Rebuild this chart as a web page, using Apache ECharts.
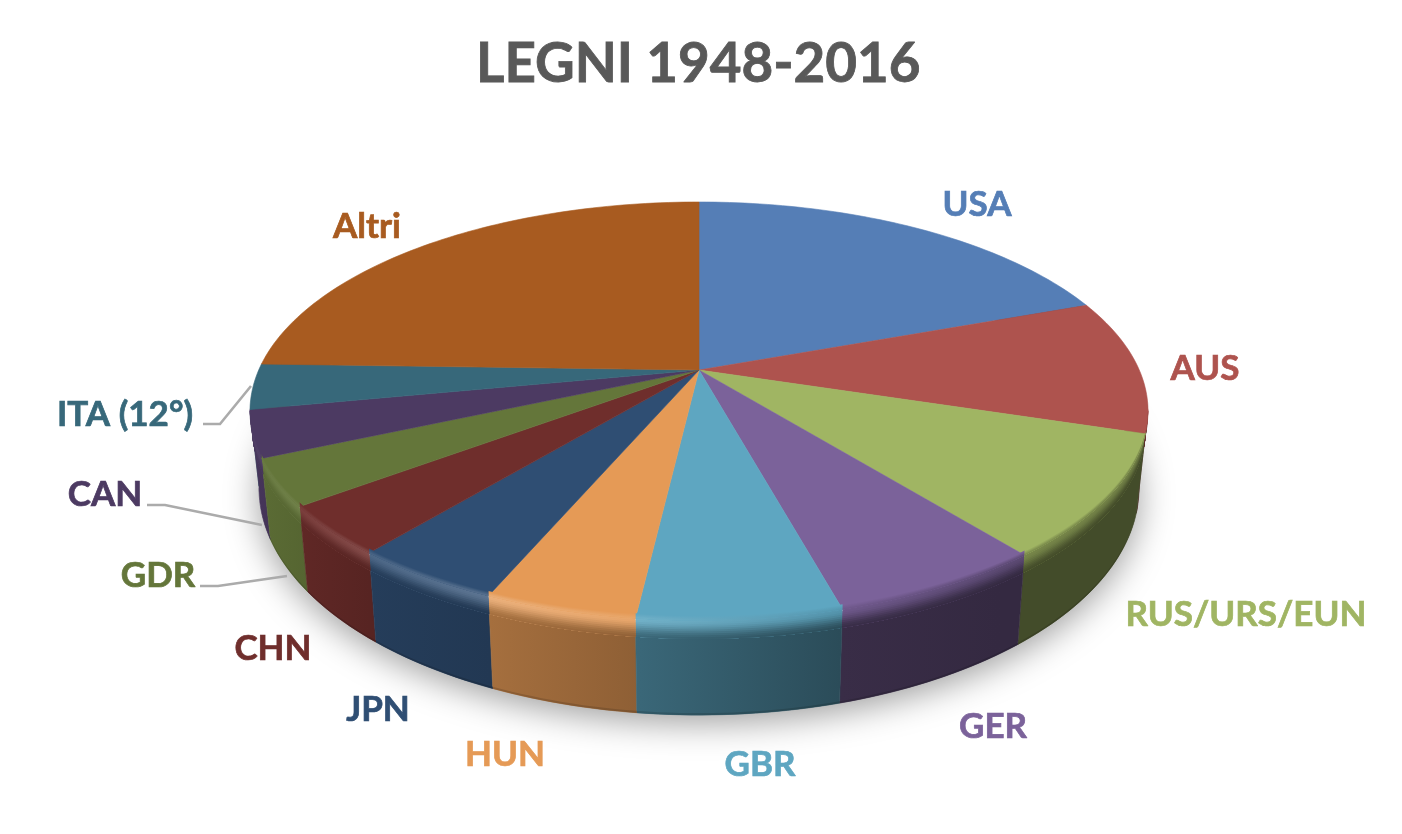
<!DOCTYPE html>
<html>
<head>
<meta charset="utf-8">
<style>html,body{margin:0;padding:0;background:#fff}#c{width:1402px;height:834px}</style>
<script src="https://cdn.jsdelivr.net/npm/echarts@6/dist/echarts.min.js"></script>
</head>
<body>
<div id="c"></div>
<script>
// ---- data ----
const categories = ['USA','AUS','RUS/URS/EUN','GER','GBR','HUN','JPN','CHN','GDR','CAN','ITA (12°)','Altri'];
const shares = [19.4,10.4,9.4,6.5,6.1,4.55,4.55,3.8,3.6,3.6,3.5,24.5];
const colors = ['#557EB6','#AE534E','#A0B563','#7B629A','#5EA6C1','#E59A56','#2F4E73','#6F2E2C','#64763A','#4C3A62','#37687A','#A85B20'];
const labelCentres = [[977,205],[1205,369],[1246,615],[993,727],[760,765],[505,755],[378,710],[273,649],[158,576],[105,495],[125,415],[367,227]];
const leaders = {10:[[203,424],[220,424],[251,386]],9:[[147,505],[165,505],[262,525]],8:[[200,586],[218,586],[287,576]]};

// ---- projection of the tilted disc ----
const CX=699, TOP_CY=411, TOP_RX=449, TOP_RY=209, DROP=77, SHRINK=9, GROW=18, B=-0.196, S=Math.sqrt(1-B*B);
function pt(deg,f){
  const a=deg*Math.PI/180, x=Math.sin(a), y=-Math.cos(a), d=1+B*y;
  const xp=S*x/d, yp=(y+B)/d;
  return [CX+(TOP_RX-f*SHRINK)*xp, TOP_CY+f*DROP+(TOP_RY+f*GROW)*yp, yp];
}
const total=shares.reduce((a,b)=>a+b,0);
let acc=0;
const spans=shares.map(v=>{const s=acc/total*360; acc+=v; return [s,acc/total*360];});
function arc(a0,a1,f){
  const n=Math.max(2,Math.ceil((a1-a0)/1.2)), out=[];
  for(let i=0;i<=n;i++){out.push(pt(a0+(a1-a0)*i/n,f).slice(0,2));}
  return out;
}
// ---- shading ----
function rgb(h){return [1,3,5].map(i=>parseInt(h.substr(i,2),16));}
function mix(a,b,t){return a.map((v,i)=>v+(b[i]-v)*t);}
function css(c){return 'rgb('+c.map(v=>Math.round(Math.max(0,Math.min(255,v)))).join(',')+')';}
const XS=[250,370,490,640,840,1000,1148];
const WALL=[.92,.78,.72,.62,.46,.42,.42];
const HL=[.03,.14,.22,.12,-.1,-.25,-.3];
function grad(fn){
  return new echarts.graphic.LinearGradient(250,0,1148,0,XS.map((x,i)=>({offset:(x-250)/898,color:css(fn(i))})),true);
}
function hi(T,i){return HL[i]>=0?mix(T,[255,255,255],HL[i]):mix(T,[0,0,0],-HL[i]);}
const FADE=.2;
function bandColor(T,f,i){
  const W=T.map(v=>v*WALL[i]), H=hi(T,i);
  if(f<=0) return mix(T,H,(f+.05)/.05);
  const t=Math.min(1,f/FADE), s=t*t*(3-2*t);
  return mix(H,W,s);
}
const INNER=[-.05,-.04,-.03,-.02,-.01,0];
const OUTER=[0,.02,.04,.06,.08,.1,.12,.14,.16,.18];
function frontRange(a0,a1){
  const lo=101.5, hi=258.5;
  const s=Math.max(a0,lo), e=Math.min(a1,hi);
  return s<e?[s,e]:null;
}

function renderSlice(params){
  const i=params.dataIndex, [a0,a1]=spans[i], T=rgb(colors[i]), kids=[];
  const mid=pt((a0+a1)/2,0)[2];
  if(i===0){
    kids.push({type:'polygon',z2:0,shape:{points:arc(0,360,1)},
      style:{fill:'#fff',shadowBlur:34,shadowColor:'rgba(0,0,0,0.38)',shadowOffsetY:8,shadowOffsetX:0}});
  }
  // side wall
  const low=arc(a0,a1,1).reverse();
  kids.push({type:'polygon',z2:2+mid,shape:{points:arc(a0,a1,0.05).concat(low)},
    style:{fill:grad(k=>T.map(v=>v*WALL[k])),stroke:grad(k=>T.map(v=>v*WALL[k])),lineWidth:.6}});
  const fr=frontRange(a0,a1);
  if(fr){
    // dark line along the foot of the wall
    kids.push({type:'polygon',z2:4,shape:{points:arc(fr[0],fr[1],.98).concat(arc(fr[0],fr[1],1.002).reverse())},
      style:{fill:grad(k=>T.map(v=>v*WALL[k]*.86))}});
    // bevel below the rim of the top face
    OUTER.forEach((f,n)=>{
      kids.push({type:'polygon',z2:5+n*.01,shape:{points:arc(fr[0],fr[1],f).concat(arc(fr[0],fr[1],FADE).reverse())},
        style:{fill:grad(k=>bandColor(T,f,k))}});
    });
  }
  // top face
  const apex=[CX,TOP_CY+TOP_RY*B];
  kids.push({type:'polygon',z2:10,shape:{points:[apex].concat(arc(a0,a1,0))},
    style:{fill:colors[i],stroke:colors[i],lineWidth:.6}});
  if(fr){
    // soft transition on the face, just inside the rim
    INNER.forEach((f,n)=>{
      kids.push({type:'polygon',z2:11+n*.01,shape:{points:arc(fr[0],fr[1],f).concat(arc(fr[0],fr[1],0.004).reverse())},
        style:{fill:grad(k=>bandColor(T,f,k))}});
    });
  }
  // leader line
  if(leaders[i]){
    kids.push({type:'polyline',z2:15,shape:{points:leaders[i]},style:{fill:null,stroke:'#ABABAB',lineWidth:2.6}});
  }
  // label
  kids.push({type:'text',z2:20,x:labelCentres[i][0],y:labelCentres[i][1],
    style:{text:categories[i],fill:colors[i],stroke:colors[i],lineWidth:.7,font:'bold 35px Lato',textAlign:'center',textVerticalAlign:'middle'}});
  return {type:'group',children:kids};
}

const chart=echarts.init(document.getElementById('c'),null,{renderer:'canvas',width:1402,height:834});
chart.setOption({
  backgroundColor:'#fff',
  animation:false,
  title:{text:'LEGNI 1948-2016',left:471,top:32,
    textStyle:{fontFamily:'Lato',fontWeight:'bold',fontSize:54.7,color:'#595959',textBorderColor:'#595959',textBorderWidth:.8}},
  series:[{
    type:'custom',coordinateSystem:'none',silent:true,
    data:categories.map((n,i)=>({name:n,value:shares[i]})),
    renderItem:renderSlice
  }]
});
</script>
</body>
</html>
